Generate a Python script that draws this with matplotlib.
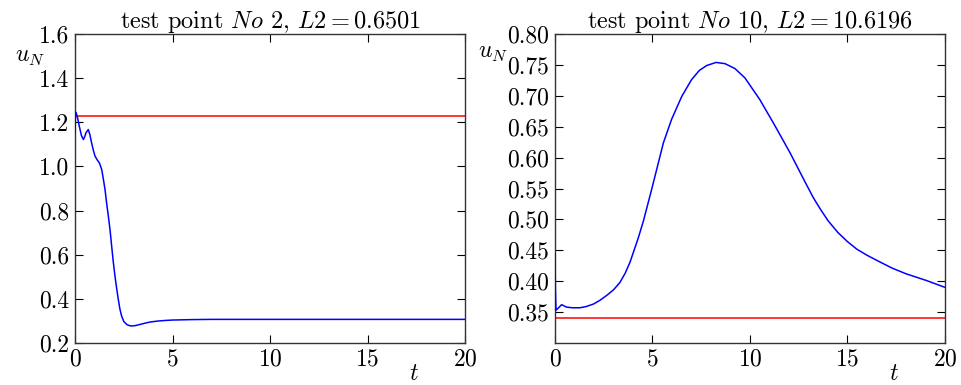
import numpy as np
import matplotlib
matplotlib.use('Agg')
import matplotlib.pyplot as plt

plt.rcParams['font.family'] = 'serif'
plt.rcParams['font.serif'] = ['cmr10']
plt.rcParams['mathtext.fontset'] = 'cm'
plt.rcParams['axes.formatter.use_mathtext'] = True

# test point No 2
t2 = [0.0, 0.02, 0.05, 0.12, 0.22, 0.33, 0.43, 0.5, 0.56, 0.68, 0.76, 0.85, 0.95, 1.03,
      1.15, 1.25, 1.37, 1.45, 1.54, 1.62, 1.71, 1.8, 1.88, 1.96, 2.05, 2.14, 2.22, 2.3,
      2.39, 2.5, 2.65, 2.78, 2.91, 3.1, 3.33, 3.6, 3.85, 4.2, 4.6, 5.0, 5.5, 6.0, 7.0,
      8.0, 10.0, 14.0, 20.0]
u2 = [1.15, 1.22, 1.245, 1.225, 1.182, 1.14, 1.122, 1.135, 1.152, 1.167, 1.145, 1.107,
      1.07, 1.046, 1.028, 1.016, 0.986, 0.945, 0.895, 0.835, 0.775, 0.71, 0.639, 0.57,
      0.503, 0.445, 0.398, 0.355, 0.322, 0.298, 0.284, 0.279, 0.277, 0.279, 0.284,
      0.29, 0.295, 0.299, 0.302, 0.304, 0.305, 0.306, 0.307, 0.307, 0.307, 0.307, 0.307]
ref2 = 1.229

# test point No 10
t10 = [0.0, 0.02, 0.05, 0.15, 0.34, 0.6, 0.9, 1.28, 1.6, 1.97, 2.3, 2.65, 3.0, 3.33,
       3.6, 3.85, 4.27, 4.53, 4.96, 5.56, 5.98, 6.5, 7.0, 7.4, 7.78, 8.26, 8.72, 9.23,
       9.74, 10.5, 11.2, 12.05, 12.8, 13.25, 13.6, 14.0, 14.5, 15.0, 15.47, 16.0, 16.67,
       17.3, 18.0, 19.06, 20.0]
u10 = [0.444, 0.39, 0.353, 0.356, 0.362, 0.358, 0.357, 0.357, 0.359, 0.363, 0.369,
       0.377, 0.386, 0.398, 0.413, 0.431, 0.47, 0.497, 0.549, 0.624, 0.662, 0.699, 0.726,
       0.741, 0.749, 0.754, 0.752, 0.744, 0.729, 0.694, 0.656, 0.608, 0.562, 0.535, 0.517,
       0.498, 0.479, 0.464, 0.452, 0.442, 0.431, 0.421, 0.412, 0.401, 0.390]
ref10 = 0.340

fig = plt.figure(figsize=(9.62, 3.85), dpi=100)
ax1 = fig.add_axes([75/962, 42/385, 390/962, 309/385])
ax2 = fig.add_axes([555/962, 42/385, 390/962, 309/385])

panels = [
    (ax1, t2, u2, ref2, r'test point $\mathit{No}$ 2, $L2=0.6501$',
     (0.2, 1.6), np.arange(0.2, 1.61, 0.2), '%.1f', (-0.115, 0.925)),
    (ax2, t10, u10, ref10, r'test point $\mathit{No}$ 10, $L2=10.6196$',
     (0.30, 0.80), np.arange(0.35, 0.801, 0.05), '%.2f', (-0.16, 0.94)),
]

for ax, t, u, ref, title, ylim, yt, fmt, ylpos in panels:
    ax.plot(t, u, color='blue', lw=1.1, zorder=3)
    ax.axhline(ref, color='red', lw=1.1)
    ax.set_xlim(0, 20)
    ax.set_ylim(*ylim)
    ax.set_xticks([0, 5, 10, 15, 20])
    ax.set_yticks(yt)
    ax.set_yticklabels([fmt % v for v in yt])
    ax.tick_params(direction='in', top=True, right=True, length=6, width=0.8,
                   labelsize=17, pad=4)
    for s in ax.spines.values():
        s.set_linewidth(1.0)
        s.set_color('#333333')
    ax.set_title(title, fontsize=17.5, pad=4)
    ax.text(ylpos[0], ylpos[1], r'$u_N$', transform=ax.transAxes, fontsize=17,
            ha='center', va='center')
    ax.text(0.87, -0.1, r'$t$', transform=ax.transAxes, fontsize=17,
            ha='center', va='center')

fig.savefig('out.png', dpi=100)
